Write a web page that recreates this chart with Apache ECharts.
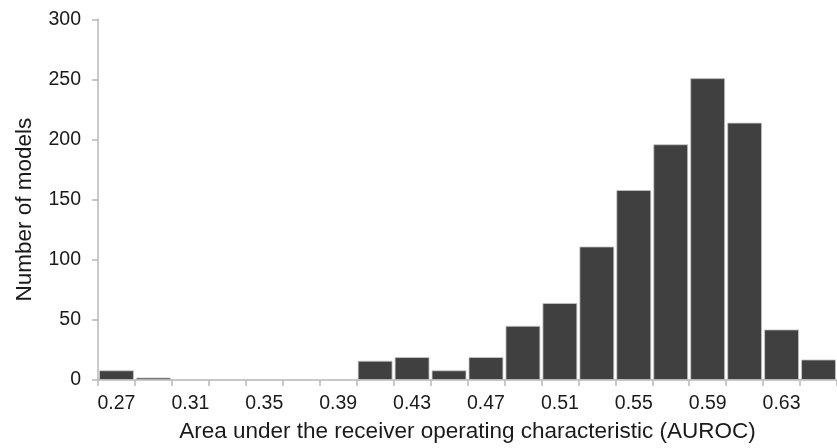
<!DOCTYPE html>
<html>
<head>
<meta charset="utf-8">
<script src="https://cdn.jsdelivr.net/npm/echarts@6/dist/echarts.min.js"></script>
<style>html,body{margin:0;padding:0;background:#fff;}#c{width:837px;height:448px;}</style>
</head>
<body>
<div id="c"></div>
<script>
const categories = ['0.27','0.29','0.31','0.33','0.35','0.37','0.39','0.41','0.43','0.45','0.47','0.49','0.51','0.53','0.55','0.57','0.59','0.61','0.63','0.65'];
const counts = [8, 2, 0, 0, 0, 0, 0, 16, 19, 8, 19, 45, 64, 111, 158, 196, 251, 214, 42, 17];
const yTicks = [0, 50, 100, 150, 200, 250, 300];
const xTitle = 'Area under the receiver operating characteristic (AUROC)';
const yTitle = 'Number of models';

const chart = echarts.init(document.getElementById('c'), null, {renderer: 'canvas'});
const font = 'Liberation Sans, Arial, sans-serif';
chart.setOption({
  animation: false,
  backgroundColor: '#ffffff',
  grid: {left: 98, right: -13, top: 19.3, bottom: 66.7, containLabel: false},
  xAxis: {
    type: 'category',
    data: categories,
    boundaryGap: true,
    name: xTitle,
    nameLocation: 'middle',
    nameGap: 40,
    nameTextStyle: {fontFamily: font, fontSize: 22.5, color: '#1a1a1a'},
    axisLine: {show: true, lineStyle: {color: '#b8b8b8', width: 1.5}},
    axisTick: {show: true, interval: 0, length: 6, lineStyle: {color: '#b8b8b8', width: 1.5}},
    axisLabel: {interval: 1, margin: 14, fontFamily: font, fontSize: 19.5, color: '#1a1a1a'},
    splitLine: {show: false}
  },
  yAxis: {
    type: 'value',
    min: yTicks[0],
    max: yTicks[yTicks.length - 1],
    interval: 50,
    name: yTitle,
    nameLocation: 'middle',
    nameGap: 62,
    nameTextStyle: {fontFamily: font, fontSize: 22.5, color: '#1a1a1a', padding: [0, 20, 0, 0]},
    axisLine: {show: true, lineStyle: {color: '#b8b8b8', width: 1.5}},
    axisTick: {show: true, length: 6, lineStyle: {color: '#b8b8b8', width: 1.5}},
    axisLabel: {margin: 17, fontFamily: font, fontSize: 19.5, color: '#1a1a1a'},
    splitLine: {show: false}
  },
  series: [{
    type: 'bar',
    data: counts,
    barCategoryGap: '6%',
    itemStyle: {color: '#404040', borderColor: '#c8c8c8', borderWidth: 0.8}
  }]
});
</script>
</body>
</html>
